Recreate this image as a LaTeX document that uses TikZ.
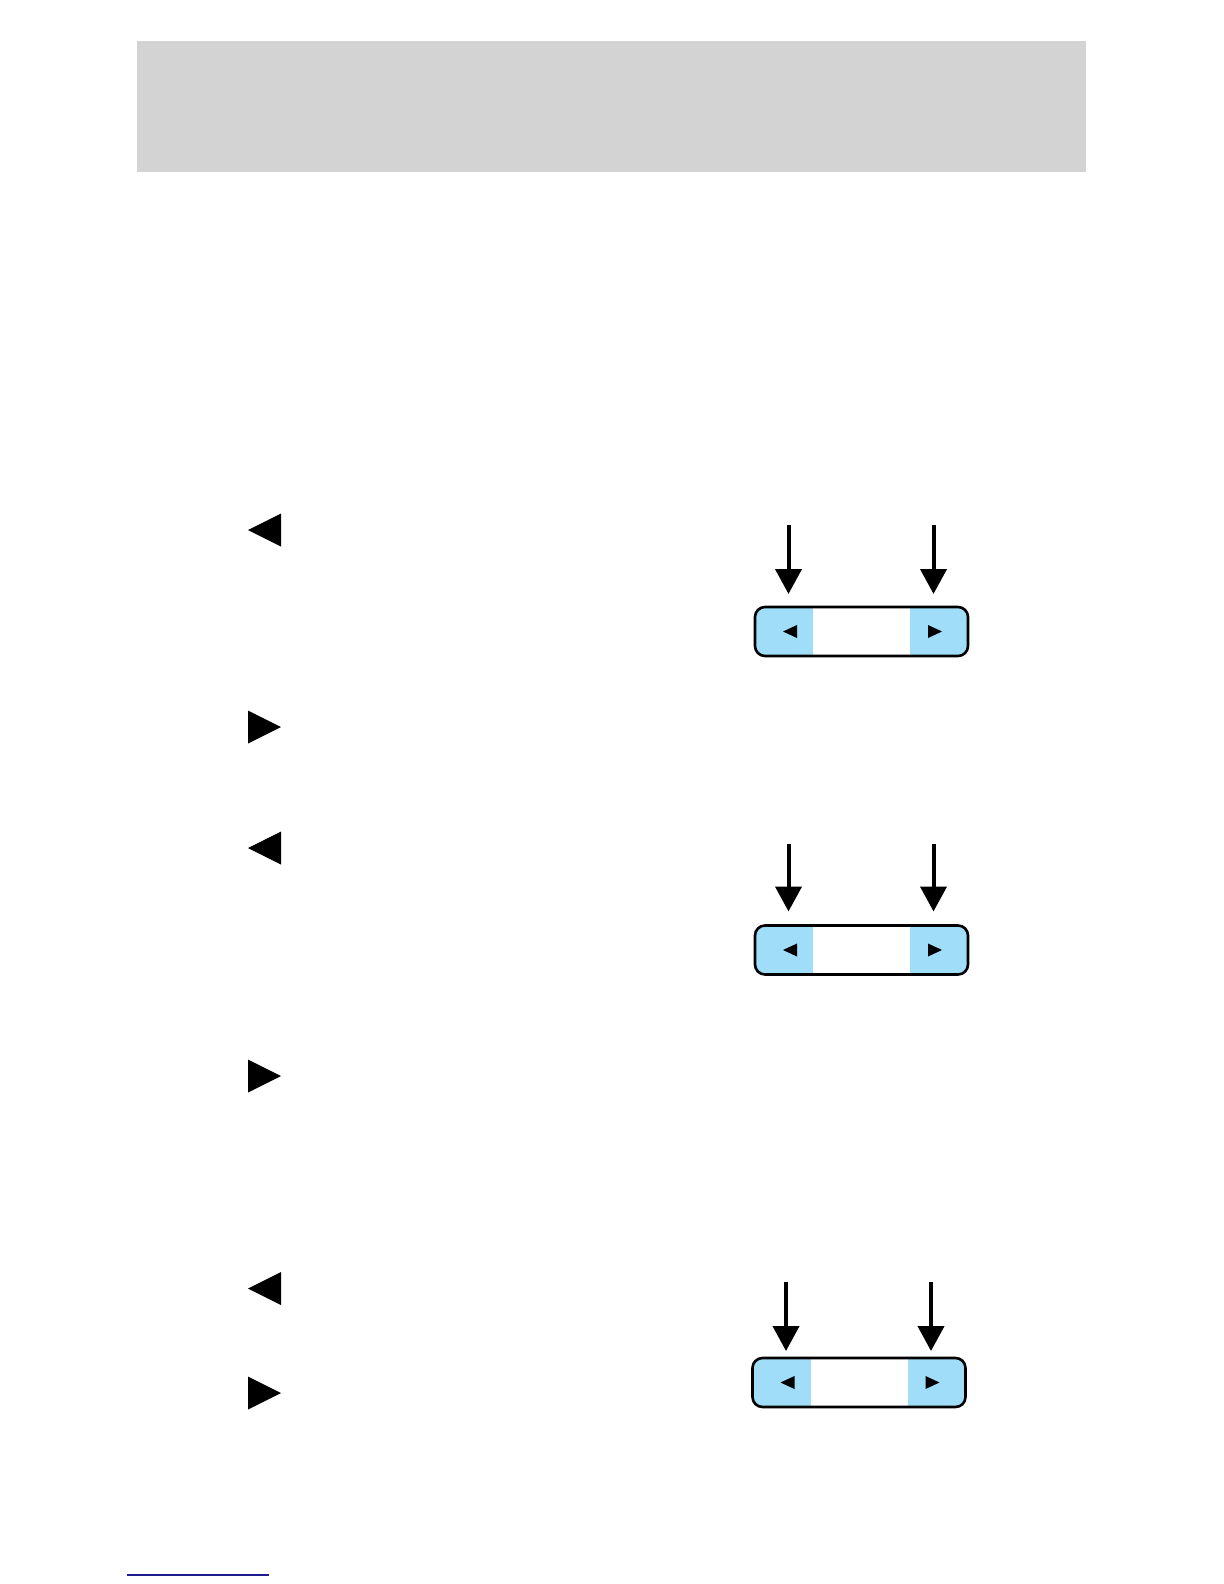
\documentclass[tikz,border=0pt]{standalone}
\usepackage{tikz}
\usepackage{xcolor}
\usetikzlibrary{arrows.meta, positioning, calc}
\definecolor{HeadFill}{HTML}{D3D3D3}
\definecolor{KeyBlue}{HTML}{9FDDF8}
\definecolor{LinkInk}{HTML}{1C1C8E}

\begin{document}
\begin{tikzpicture}[
    x=0.5pt, y=-0.5pt,
    header/.style={
      fill=HeadFill,
      inner sep=0pt,
      minimum width=474.5pt,
      minimum height=65.5pt,
      anchor=north west,
    },
    bar/.style={
      outer sep=0pt,
      inner sep=0pt,
      minimum width=106.5pt,
      minimum height=24.5pt,
    },
    rim/.style={
      draw=black,
      rounded corners=5pt,
      line width=1.3pt,
    },
    seg/.style={
      fill=KeyBlue,
      inner sep=0pt,
      outer sep=0pt,
      minimum width=29pt,
      minimum height=24.5pt,
    },
    pointer/.style={
      line width=2pt,
      -{Triangle[width=13pt,length=12.5pt]},
    },
  ]
    \useasboundingbox (0,0) rectangle (1224,1584);

    % ---- header band ----
    \node[header] (head) at (137,41) {};

    % ---- side markers ----
    \foreach \y/\s in {530/1, 727/-1, 848/1, 1076/-1, 1288.5/1, 1393/-1} {
      \fill (264.5-16.5*\s,\y) -- ++(33*\s,-16.5) -- ++(0,33) -- cycle;
    }

    % ---- key bars ----
    \foreach \n/\x/\y/\t/\g in {1/861.5/631.5/525/6.5pt, 2/861.5/950/844/7pt,
                                3/859/1382.5/1282/3.5pt} {
      \node[bar] (bar\n) at (\x,\y) {};
      \begin{scope}
        \clip[rounded corners=5pt] (bar\n.north west) rectangle (bar\n.south east);
        \node[seg, anchor=west] (lk\n) at (bar\n.west) {};
        \node[seg, anchor=east] (rk\n) at (bar\n.east) {};
      \end{scope}
      \draw[rim] (bar\n.north west) rectangle (bar\n.south east);
      \fill ([xshift=-0.5pt]lk\n.center) -- ++(14,-6.5) -- ++(0,13) -- cycle;
      \fill ([xshift=1.5pt]rk\n.center) -- ++(-14,-6.5) -- ++(0,13) -- cycle;

      \coordinate (lt\n) at (\x-73,\t);
      \coordinate (rt\n) at (\x+72,\t);
      \draw[pointer, shorten >=\g] (lt\n) -- (lt\n |- bar\n.north);
      \draw[pointer, shorten >=\g] (rt\n) -- (rt\n |- bar\n.north);
    }

    % ---- link rule ----
    \draw[LinkInk, line width=1pt] (127,1575) -- (269,1575);
  \end{tikzpicture}
\end{document}
